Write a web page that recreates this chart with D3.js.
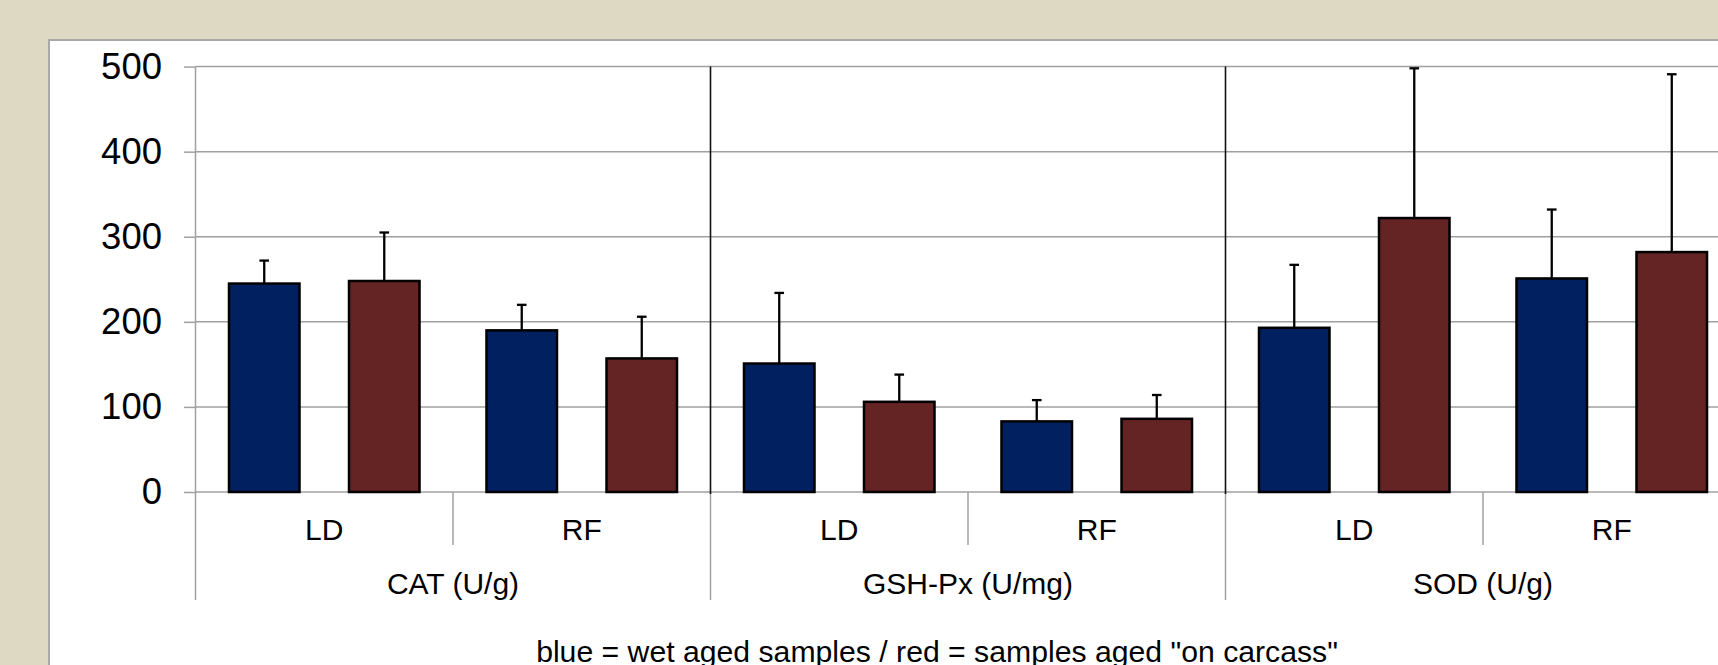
<!DOCTYPE html>
<html>
<head>
<meta charset="utf-8">
<script src="https://cdn.jsdelivr.net/npm/d3@7"></script>
<style>
  html, body { margin: 0; padding: 0; background: #DDD9C3; overflow: hidden; }
  svg { display: block; }
  text { font-family: "Liberation Sans", Arial, sans-serif; fill: #000; }
</style>
</head>
<body>
<svg id="chart" width="1718" height="665"></svg>
<script>
// Enzyme groups, muscles within each group, and the two ageing treatments
const groups = ["CAT (U/g)", "GSH-Px (U/mg)", "SOD (U/g)"];
const muscles = ["LD", "RF"];
const treatments = ["wet", "carcass"];

// Means, ordered group by group, muscle by muscle
const wetMeans     = [245, 190, 151, 83, 193, 251];
const carcassMeans = [248, 157, 106, 86, 322, 282];
// Standard deviations (upper error bars)
const wetSD        = [27, 30, 83, 25, 74, 81];
const carcassSD    = [57, 49, 32, 28, 176, 209];

const yTicks = [0, 100, 200, 300, 400, 500];
const footnote = 'blue = wet aged samples / red = samples aged "on carcass"';

const colors = { wet: "#00205F", carcass: "#632423" };

const svg = d3.select("#chart");
const W = 1718, H = 665;

// White chart panel
svg.append("rect")
  .attr("x", 49).attr("y", 40)
  .attr("width", W).attr("height", H)
  .attr("fill", "#fff")
  .attr("stroke", "#A9A9A9").attr("stroke-width", 2);

const plot = { left: 195.5, top: 66.6, bottom: 492, width: 1545 };

const y = d3.scaleLinear().domain([0, 500]).range([plot.bottom, plot.top]);

const xGroup = d3.scaleBand().domain(groups)
  .range([plot.left, plot.left + plot.width]).padding(0);
const xMuscle = d3.scaleBand().domain(muscles)
  .range([0, xGroup.bandwidth()]).padding(0);
const xTreat = d3.scaleBand().domain(treatments)
  .range([0, xMuscle.bandwidth()]).paddingInner(0.4125).paddingOuter(0.279);

// Gridlines
const grid = svg.append("g");
grid.selectAll("line").data(yTicks).join("line")
  .attr("x1", plot.left).attr("x2", W)
  .attr("y1", d => y(d)).attr("y2", d => y(d))
  .attr("stroke", "#A0A0A0").attr("stroke-width", 1.5);

// Y axis
const yAxis = svg.append("g")
  .attr("transform", `translate(${plot.left},0)`)
  .call(d3.axisLeft(y).tickValues(yTicks).tickSizeInner(11.5).tickSizeOuter(0).tickPadding(22));
yAxis.select(".domain").remove();
yAxis.selectAll(".tick line").attr("stroke", "#A0A0A0").attr("stroke-width", 1.5);
yAxis.selectAll(".tick text")
  .style("font-size", "36.5px")
  .style("font-family", '"Liberation Sans", Arial, sans-serif');

// Vertical axis line through the category label area
svg.append("line")
  .attr("x1", plot.left).attr("x2", plot.left)
  .attr("y1", plot.top).attr("y2", 600)
  .attr("stroke", "#A0A0A0").attr("stroke-width", 1.5);

// Category separators below the axis
const sep = svg.append("g").attr("stroke", "#A0A0A0").attr("stroke-width", 1.5);
groups.forEach((g, gi) => {
  const gx = xGroup(g);
  if (gi > 0) {
    sep.append("line").attr("x1", gx).attr("x2", gx)
      .attr("y1", plot.bottom).attr("y2", 600);
  }
  muscles.forEach((m, mi) => {
    if (mi > 0) {
      const mx = gx + xMuscle(m);
      sep.append("line").attr("x1", mx).attr("x2", mx)
        .attr("y1", plot.bottom).attr("y2", 545);
    }
  });
});
const lastEdge = xGroup(groups[groups.length - 1]) + xGroup.bandwidth();
sep.append("line").attr("x1", lastEdge).attr("x2", lastEdge)
  .attr("y1", plot.bottom).attr("y2", 600);

// Black group dividers inside the plot
svg.append("g").selectAll("line").data(groups.slice(1)).join("line")
  .attr("x1", d => xGroup(d)).attr("x2", d => xGroup(d))
  .attr("y1", plot.top).attr("y2", plot.bottom + 2)
  .attr("stroke", "#111").attr("stroke-width", 1.6);

// Build bar records
const bars = [];
groups.forEach((g, gi) => {
  muscles.forEach((m, mi) => {
    const i = gi * muscles.length + mi;
    bars.push({ g, m, t: "wet", v: wetMeans[i], sd: wetSD[i] });
    bars.push({ g, m, t: "carcass", v: carcassMeans[i], sd: carcassSD[i] });
  });
});
const barX = d => xGroup(d.g) + xMuscle(d.m) + xTreat(d.t);

// Error bars (drawn behind bar tops)
const eb = svg.append("g").attr("stroke", "#000").attr("stroke-width", 2.3);
eb.selectAll("line.v").data(bars).join("line").attr("class", "v")
  .attr("x1", d => barX(d) + xTreat.bandwidth() / 2)
  .attr("x2", d => barX(d) + xTreat.bandwidth() / 2)
  .attr("y1", d => y(d.v)).attr("y2", d => y(d.v + d.sd));
eb.selectAll("line.cap").data(bars).join("line").attr("class", "cap")
  .attr("x1", d => barX(d) + xTreat.bandwidth() / 2 - 4.8)
  .attr("x2", d => barX(d) + xTreat.bandwidth() / 2 + 4.8)
  .attr("y1", d => y(d.v + d.sd)).attr("y2", d => y(d.v + d.sd));

// Bars
svg.append("g").selectAll("rect").data(bars).join("rect")
  .attr("x", barX)
  .attr("y", d => y(d.v))
  .attr("width", xTreat.bandwidth())
  .attr("height", d => y(0) - y(d.v))
  .attr("fill", d => colors[d.t])
  .attr("stroke", "#000").attr("stroke-width", 2.5);

// Muscle labels
const labels = svg.append("g");
groups.forEach(g => {
  muscles.forEach(m => {
    labels.append("text")
      .attr("x", xGroup(g) + xMuscle(m) + xMuscle.bandwidth() / 2)
      .attr("y", 539.5)
      .attr("text-anchor", "middle")
      .style("font-size", "30px")
      .text(m);
  });
  labels.append("text")
    .attr("x", xGroup(g) + xGroup.bandwidth() / 2)
    .attr("y", 594)
    .attr("text-anchor", "middle")
    .style("font-size", "30px")
    .text(g);
});

// Colour key note
svg.append("text")
  .attr("x", 937).attr("y", 661.5)
  .attr("text-anchor", "middle")
  .style("font-size", "30.2px")
  .text(footnote);
</script>
</body>
</html>
